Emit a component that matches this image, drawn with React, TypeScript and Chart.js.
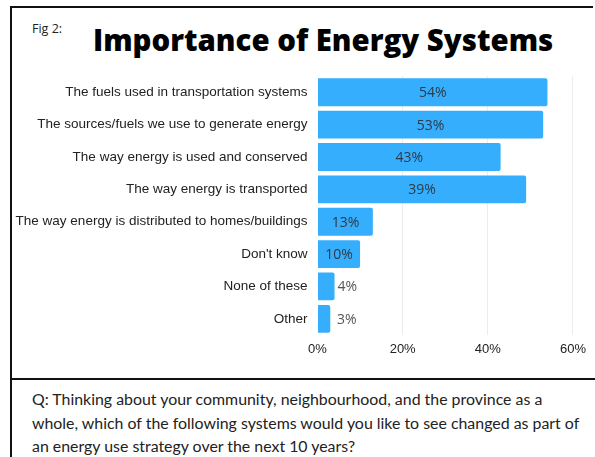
import React, { useEffect, useRef } from "react";
import { Chart, registerables } from "chart.js";

Chart.register(...registerables);

const categories = [
  "The fuels used in transportation systems",
  "The sources/fuels we use to generate energy",
  "The way energy is used and conserved",
  "The way energy is transported",
  "The way energy is distributed to homes/buildings",
  "Don't know",
  "None of these",
  "Other",
];
// bar lengths as drawn in the figure
const values = [54, 53, 43, 49, 13, 10, 4, 3];
// labels as printed in the figure
const valueLabels = ["54%", "53%", "43%", "39%", "13%", "10%", "4%", "3%"];
const xMin = 0;
const xMax = 60;
const xStep = 20;

const figLabel = "Fig 2:";
const title = "Importance of Energy Systems";
const questionLines = [
  "Q: Thinking about your community, neighbourhood, and the province as a",
  "whole, which of the following systems would you like to see changed as part of",
  "an energy use strategy over the next 10 years?",
];

const barLabelPlugin = {
  id: "barLabels",
  afterDatasetsDraw(chart: any) {
    const ctx = chart.ctx;
    const meta = chart.getDatasetMeta(0);
    const xScale = chart.scales.x;
    const x0 = xScale.getPixelForValue(0);
    ctx.save();
    ctx.font = "14px 'Open Sans'";
    ctx.textBaseline = "middle";
    meta.data.forEach((bar: any, i: number) => {
      const v = values[i];
      const txt = valueLabels[i];
      if (v >= 8) {
        ctx.fillStyle = "#2f3a45";
        ctx.textAlign = "center";
        ctx.fillText(txt, (bar.base + bar.x) / 2, bar.y + 1);
      } else {
        ctx.fillStyle = "#555555";
        ctx.textAlign = "left";
        ctx.fillText(txt, Math.max(bar.x + 3, x0 + 19.5), bar.y + 1);
      }
    });
    ctx.restore();
  },
};

export default function App() {
  const canvasRef = useRef<HTMLCanvasElement | null>(null);

  useEffect(() => {
    if (!canvasRef.current) return;
    const chart = new Chart(canvasRef.current, {
      type: "bar",
      data: {
        labels: categories,
        datasets: [
          {
            data: values,
            backgroundColor: "#34aefd",
            borderRadius: 2,
            categoryPercentage: 1,
            barPercentage: 0.86,
          },
        ],
      },
      options: {
        indexAxis: "y",
        animation: false,
        responsive: true,
        maintainAspectRatio: false,
        layout: { padding: { left: 0, right: 20, top: 9, bottom: 0 } },
        plugins: {
          legend: { display: false },
          tooltip: { enabled: false },
          title: { display: false },
        },
        scales: {
          x: {
            min: xMin,
            max: xMax,
            border: { display: false },
            grid: {
              drawTicks: false,
              color: (c: any) =>
                c.tick && c.tick.value === 0 ? "rgba(0,0,0,0)" : "#ececec",
            },
            ticks: {
              stepSize: xStep,
              padding: 7,
              color: "#222222",
              font: { family: "'Liberation Sans', Arial", size: 13 },
              callback: (v: any) => v + "%",
            },
            afterFit: (axis: any) => {
              axis.height = 27;
            },
          },
          y: {
            border: { display: false },
            grid: { display: false, drawTicks: false },
            ticks: {
              padding: 10,
              color: "#222222",
              font: { family: "'Liberation Sans', Arial", size: 13.5 },
            },
            afterFit: (axis: any) => {
              axis.width = 305.5;
            },
          },
        },
      },
      plugins: [barLabelPlugin],
    });
    return () => chart.destroy();
  }, []);

  return (
    <div
      style={{
        position: "absolute",
        left: 0,
        top: 0,
        width: 595,
        height: 457,
        background: "#ffffff",
        overflow: "hidden",
      }}
    >
      {/* box borders */}
      <div style={{ position: "absolute", left: 10, top: 6, width: 583, height: 2, background: "#111" }} />
      <div style={{ position: "absolute", left: 10, top: 6, width: 2, height: 451, background: "#111" }} />
      <div style={{ position: "absolute", left: 10, top: 378, width: 585, height: 2, background: "#111" }} />

      <div
        style={{
          position: "absolute",
          left: 32,
          top: 20,
          fontFamily: "'Open Sans', sans-serif",
          fontSize: 12.5,
          color: "#222",
          lineHeight: "18px",
          whiteSpace: "nowrap",
        }}
      >
        {figLabel}
      </div>
      <div
        style={{
          position: "absolute",
          left: 93,
          top: 20,
          fontFamily: "'Open Sans', sans-serif",
          fontWeight: 800,
          fontSize: 29.4,
          color: "#000",
          lineHeight: "40px",
          whiteSpace: "nowrap",
        }}
      >
        {title}
      </div>

      <div style={{ position: "absolute", left: 12, top: 58, width: 581, height: 304 }}>
        <canvas ref={canvasRef} />
      </div>

      <div
        style={{
          position: "absolute",
          left: 32,
          top: 387,
          fontFamily: "Lato, sans-serif",
          fontSize: 15.9,
          color: "#222",
          lineHeight: "23.5px",
          whiteSpace: "nowrap",
        }}
      >
        {questionLines.map((l, i) => (
          <div key={i}>{l}</div>
        ))}
      </div>
    </div>
  );
}
